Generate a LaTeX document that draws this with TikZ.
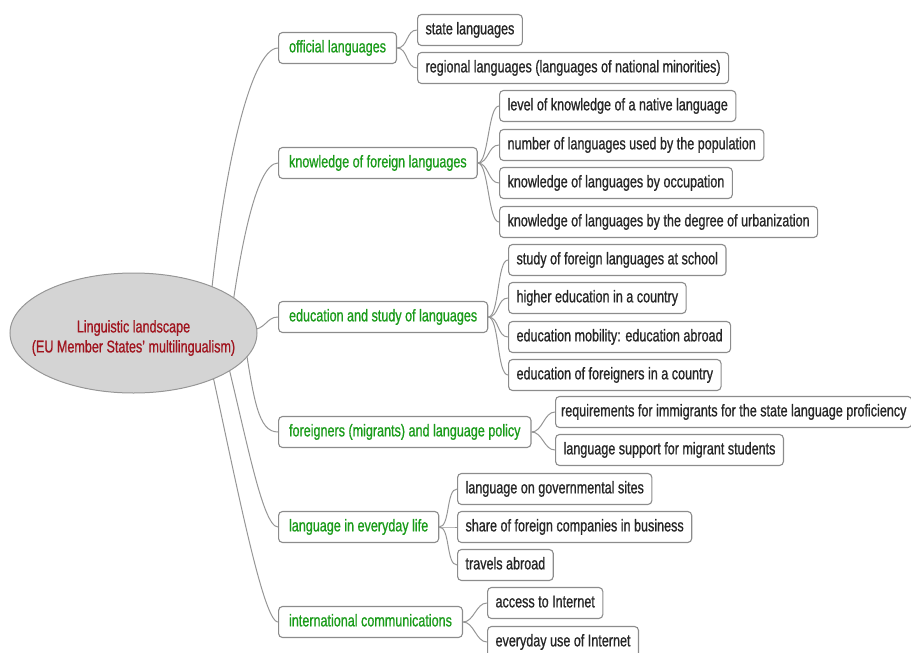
\documentclass[tikz,border=0pt]{standalone}
\usepackage{fontspec}
\setmainfont{Liberation Sans}[FakeStretch=0.74, FakeBold=0.8]
\usetikzlibrary{shapes.geometric}
\definecolor{lvlgreen}{RGB}{25,155,25}
\definecolor{rootred}{RGB}{160,20,30}
\definecolor{boxgray}{RGB}{140,140,140}
\definecolor{linegray}{RGB}{150,150,150}
\definecolor{rootfill}{RGB}{212,212,212}
\definecolor{rootline}{RGB}{150,150,150}
\begin{document}
\begin{tikzpicture}[x=1pt,y=-1pt,
  box/.style={draw=boxgray, line width=1.1pt, rounded corners=4pt, fill=white,
    anchor=west, minimum height=31pt, text height=12.5pt, text depth=3.8pt,
    font=\fontsize{17}{20}\selectfont},
  topic/.style={box, text=lvlgreen, inner xsep=10.5pt},
  sub/.style={box, text=black!85, inner xsep=8pt},
  conn/.style={draw=linegray, line width=1pt},
  branch/.style={conn}]
\useasboundingbox (0,0) rectangle (911,653);
% level 1
\node[topic] (t1) at (278,48) {official languages};
\node[topic] (t2) at (278,163) {knowledge of foreign languages};
\node[topic] (t3) at (278,317) {education and study of languages};
\node[topic] (t4) at (278,432) {foreigners (migrants) and language policy};
\node[topic] (t5) at (278,527) {language in everyday life};
\node[topic] (t6) at (278,622) {international communications};
% level 2
\node[sub] (a1) at (417,30) {state languages};
\node[sub] (a2) at (417,68) {regional languages (languages of national minorities)};
\node[sub] (b1) at (499,106) {level of knowledge of a native language};
\node[sub] (b2) at (499,145) {number of languages used by the population};
\node[sub] (b3) at (499,183) {knowledge of languages by occupation};
\node[sub] (b4) at (499,222) {knowledge of languages by the degree of urbanization};
\node[sub] (c1) at (508,260) {study of foreign languages at school};
\node[sub] (c2) at (508,298) {higher education in a country};
\node[sub] (c3) at (508,337) {education mobility: education abroad};
\node[sub] (c4) at (508,375) {education of foreigners in a country};
\node[sub, inner xsep=5.5pt] (d1) at (555,412) {requirements for immigrants for the state language proficiency};
\node[sub] (d2) at (555,450) {language support for migrant students};
\node[sub] (e1) at (457,489) {language on governmental sites};
\node[sub] (e2) at (457,527) {share of foreign companies in business};
\node[sub] (e3) at (457,565) {travels abroad};
\node[sub] (f1) at (487,603) {access to Internet};
\node[sub] (f2) at (487,642) {everyday use of Internet};
% level 2 connectors
\foreach \p/\c in {t1/a1,t1/a2,t2/b1,t2/b2,t2/b3,t2/b4,t3/c1,t3/c2,t3/c3,t3/c4,
                   t4/d1,t4/d2,t5/e1,t5/e2,t5/e3,t6/f1,t6/f2}
  \draw[branch] (\p.east) .. controls +(11,0) and +(-11,0) .. (\c.west);
% root connectors (start points hidden behind the root)
\coordinate (s1) at (207,340);
\coordinate (s2) at (228,340);
\coordinate (s3) at (250,330);
\coordinate (s4) at (244,338);
\coordinate (s5) at (222,340);
\coordinate (s6) at (205,340);
\draw[conn] (s1) .. controls (220,180) and (250,48) .. (t1.west);
\draw[conn] (s2) .. controls (238,260) and (255,163) .. (t2.west);
\draw[conn] (s3) .. controls (266,330) and (266,317) .. (t3.west);
\draw[conn] (s4) .. controls (254,400) and (258,432) .. (t4.west);
\draw[conn] (s5) .. controls (245,430) and (262,527) .. (t5.west);
\draw[conn] (s6) .. controls (232,460) and (262,622) .. (t6.west);
% root
\node[ellipse, draw=rootline, fill=rootfill, line width=1pt, inner sep=0pt,
      minimum width=247pt, minimum height=120pt] (root) at (133.5,333) {};
\node[align=center, text=rootred, font=\fontsize{17}{20}\selectfont]
      (roottext) at (133.5,338) {Linguistic landscape\\(EU Member States’ multilingualism)};
\end{tikzpicture}
\end{document}
